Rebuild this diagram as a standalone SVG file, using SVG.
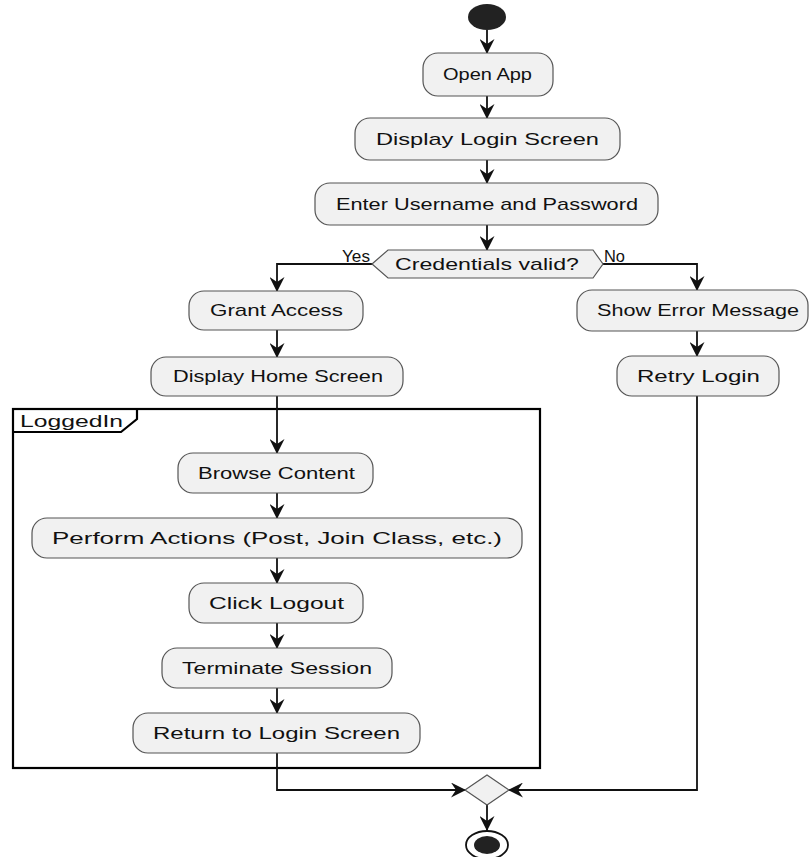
<svg xmlns="http://www.w3.org/2000/svg" width="809" height="857" viewBox="0 0 809 857">
  <style>
    .act rect { fill: #F1F1F1; stroke: #555555; stroke-width: 1.2; }
    .lbl { font-family: "Liberation Sans", Arial, sans-serif; font-size: 17px; fill: #111111; }
    .edge { fill: none; stroke: #111111; stroke-width: 1.8; }
    .frame { fill: none; stroke: #000000; stroke-width: 2.2; }
  </style>
  <defs>
    <marker id="arrow" viewBox="0 0 15 15" refX="14" refY="7.5" markerWidth="15" markerHeight="15" markerUnits="userSpaceOnUse" orient="auto">
      <path d="M0,0 L15,7.5 L0,15 L5,7.5 Z" fill="#111111"/>
    </marker>
  </defs>

  <rect width="809" height="857" fill="#ffffff"/>

  <!-- LoggedIn partition -->
  <g id="partition-loggedin">
    <rect class="frame" x="13" y="409" width="527" height="359"/>
    <path class="frame" d="M13,432 L121,432 L137,419 L137,409" stroke-width="1.6"/>
    <text class="lbl" x="20" y="427" textLength="103" lengthAdjust="spacingAndGlyphs">LoggedIn</text>
  </g>

  <!-- connectors -->
  <g id="connectors">
    <path class="edge" d="M487,30 L487,53" marker-end="url(#arrow)"/>
    <path class="edge" d="M487,96 L487,118" marker-end="url(#arrow)"/>
    <path class="edge" d="M487,160 L487,183" marker-end="url(#arrow)"/>
    <path class="edge" d="M487,225 L487,250" marker-end="url(#arrow)"/>
    <path class="edge" d="M372,264 L277,264 L277,291" marker-end="url(#arrow)"/>
    <path class="edge" d="M603,264 L697,264 L697,290" marker-end="url(#arrow)"/>
    <path class="edge" d="M277,330 L277,357" marker-end="url(#arrow)"/>
    <path class="edge" d="M277,396 L277,453" marker-end="url(#arrow)"/>
    <path class="edge" d="M277,493 L277,518" marker-end="url(#arrow)"/>
    <path class="edge" d="M277,558 L277,583" marker-end="url(#arrow)"/>
    <path class="edge" d="M277,623 L277,648" marker-end="url(#arrow)"/>
    <path class="edge" d="M277,688 L277,713" marker-end="url(#arrow)"/>
    <path class="edge" d="M277,753 L277,790 L465,790" marker-end="url(#arrow)"/>
    <path class="edge" d="M697,331 L697,356" marker-end="url(#arrow)"/>
    <path class="edge" d="M697,396 L697,790 L509,790" marker-end="url(#arrow)"/>
    <path class="edge" d="M487,805 L487,830" marker-end="url(#arrow)"/>
    <text class="lbl" x="342" y="262" font-size="14" textLength="28" lengthAdjust="spacingAndGlyphs">Yes</text>
    <text class="lbl" x="604" y="262" font-size="14" textLength="21" lengthAdjust="spacingAndGlyphs">No</text>
  </g>

  <!-- start -->
  <g id="start">
    <ellipse cx="487" cy="17" rx="19" ry="13" fill="#222222"/>
  </g>

  <g id="open-app" class="act">
    <rect x="423" y="53" width="130" height="43" rx="15"/>
    <text class="lbl" x="443" y="80" textLength="89" lengthAdjust="spacingAndGlyphs">Open App</text>
  </g>

  <g id="display-login" class="act">
    <rect x="355" y="118" width="265" height="42" rx="15"/>
    <text class="lbl" x="376" y="145" textLength="223" lengthAdjust="spacingAndGlyphs">Display Login Screen</text>
  </g>

  <g id="enter-credentials" class="act">
    <rect x="315" y="183" width="343" height="42" rx="15"/>
    <text class="lbl" x="336" y="210" textLength="302" lengthAdjust="spacingAndGlyphs">Enter Username and Password</text>
  </g>

  <g id="credentials-valid">
    <polygon points="372,264 388,250 593,250 603,264 593,278 388,278" fill="#F1F1F1" stroke="#555555" stroke-width="1.2"/>
    <text class="lbl" x="395" y="270" textLength="184" lengthAdjust="spacingAndGlyphs">Credentials valid?</text>
  </g>

  <g id="grant-access" class="act">
    <rect x="189" y="291" width="174" height="39" rx="15"/>
    <text class="lbl" x="210" y="316" textLength="133" lengthAdjust="spacingAndGlyphs">Grant Access</text>
  </g>

  <g id="display-home" class="act">
    <rect x="151" y="357" width="252" height="39" rx="15"/>
    <text class="lbl" x="173" y="382" textLength="210" lengthAdjust="spacingAndGlyphs">Display Home Screen</text>
  </g>

  <g id="show-error" class="act">
    <rect x="577" y="290" width="231" height="41" rx="15"/>
    <text class="lbl" x="597" y="316" textLength="202" lengthAdjust="spacingAndGlyphs">Show Error Message</text>
  </g>

  <g id="retry-login" class="act">
    <rect x="617" y="356" width="162" height="40" rx="15"/>
    <text class="lbl" x="637" y="382" textLength="123" lengthAdjust="spacingAndGlyphs">Retry Login</text>
  </g>

  <g id="browse-content" class="act">
    <rect x="178" y="453" width="195" height="40" rx="15"/>
    <text class="lbl" x="198" y="479" textLength="157" lengthAdjust="spacingAndGlyphs">Browse Content</text>
  </g>

  <g id="perform-actions" class="act">
    <rect x="32" y="518" width="490" height="40" rx="15"/>
    <text class="lbl" x="52" y="544" textLength="450" lengthAdjust="spacingAndGlyphs">Perform Actions (Post, Join Class, etc.)</text>
  </g>

  <g id="click-logout" class="act">
    <rect x="189" y="583" width="174" height="40" rx="15"/>
    <text class="lbl" x="209" y="609" textLength="135" lengthAdjust="spacingAndGlyphs">Click Logout</text>
  </g>

  <g id="terminate-session" class="act">
    <rect x="162" y="648" width="230" height="40" rx="15"/>
    <text class="lbl" x="182" y="674" textLength="190" lengthAdjust="spacingAndGlyphs">Terminate Session</text>
  </g>

  <g id="return-login" class="act">
    <rect x="133" y="713" width="287" height="40" rx="15"/>
    <text class="lbl" x="153" y="739" textLength="247" lengthAdjust="spacingAndGlyphs">Return to Login Screen</text>
  </g>

  <g id="merge">
    <polygon points="465,790 487,775 509,790 487,805" fill="#F1F1F1" stroke="#555555" stroke-width="1.2"/>
  </g>

  <g id="end">
    <ellipse cx="487" cy="845" rx="21" ry="14" fill="#ffffff" stroke="#111111" stroke-width="1.8"/>
    <ellipse cx="487" cy="845" rx="13" ry="9" fill="#222222"/>
  </g>
</svg>
